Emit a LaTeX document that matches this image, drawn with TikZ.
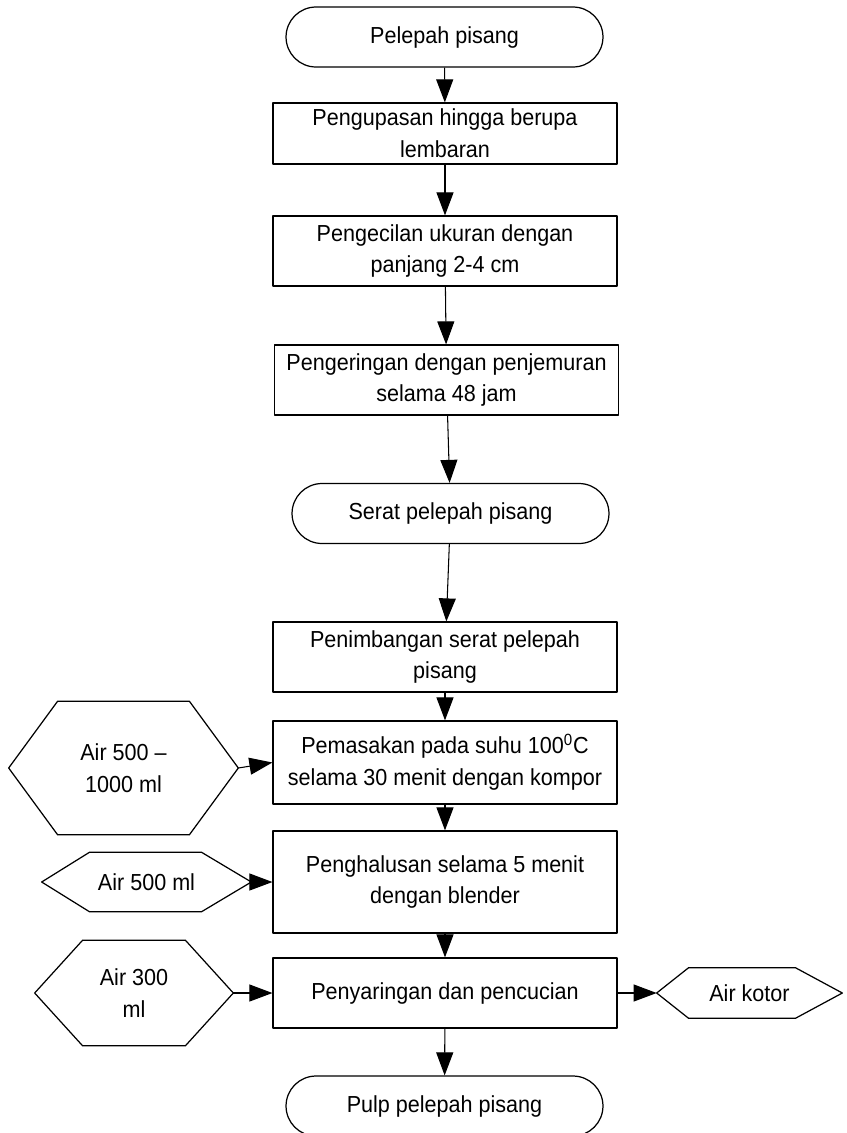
\documentclass[tikz,border=0pt]{standalone}
\usepackage{fontspec}
\setmainfont{Liberation Sans}[FakeStretch=0.93]
\usetikzlibrary{arrows.meta}

% hexagon round a named node: node, left cut, right cut
\newcommand\hexout[3]{%
  \draw[line width=0.7pt] ([xshift=#2]#1.north west) -- ([xshift=-#3]#1.north east) -- (#1.east)
    -- ([xshift=-#3]#1.south east) -- ([xshift=#2]#1.south west) -- (#1.west) -- cycle;}

\begin{document}
\begin{tikzpicture}[x=0.02cm, y=-0.02cm, line join=round, >={Triangle[length=0.46cm,width=0.34cm]},
    font=\fontsize{13.2}{18.2}\selectfont,
    proses/.style={draw, line width=0.7pt, align=center, inner sep=0pt, minimum width=6.88cm},
    ujung/.style={draw, line width=0.7pt, rounded corners=0.6cm, inner sep=0pt, minimum width=6.34cm, minimum height=1.2cm},
    masukan/.style={align=center, inner sep=0pt},
    alir/.style={->, line width=0.6pt}]
  \useasboundingbox (0,0) rectangle (847,1133);
  % alur utama
  \node[ujung] (t1) at (444.5,37) {Pelepah pisang};
  \node[proses, minimum height=1.22cm] (b1) at (445,133.5) {Pengupasan hingga berupa\\lembaran};
  \node[proses, minimum height=1.4cm] (b2) at (445,251) {Pengecilan ukuran dengan\\panjang 2-4 cm};
  \node[proses, minimum height=1.4cm] (b3) at (446.5,380) {Pengeringan dengan penjemuran\\selama 48 jam};
  \node[ujung] (t2) at (450.5,513.5) {Serat pelepah pisang};
  \node[proses, minimum height=1.4cm] (b4) at (445,657) {Penimbangan serat pelepah\\pisang};
  \node[proses, minimum height=1.66cm] (b5) at (445,762.5) {Pemasakan pada suhu 100\textsuperscript{0}C\\selama 30 menit dengan kompor};
  \node[proses, minimum height=2.04cm] (b6) at (445,882) {Penghalusan selama 5 menit\\dengan blender};
  \node[proses, minimum height=1.4cm] (b7) at (445,993) {Penyaringan dan pencucian};
  \node[ujung] (t3) at (444.5,1106) {Pulp pelepah pisang};
  % bahan masuk dan keluar
  \node[masukan, minimum width=4.58cm, minimum height=2.66cm] (h1) at (123.5,768) {Air 500 --\\1000 ml};
  \node[masukan, minimum width=4.18cm, minimum height=1.18cm] (h2) at (146.5,882) {Air 500 ml};
  \node[masukan, minimum width=3.96cm, minimum height=2.1cm] (h3) at (134,993) {Air 300\\ml};
  \node[masukan, minimum width=3.7cm, minimum height=1cm] (h4) at (749.5,993) {Air kotor};
  \hexout{h1}{0.98cm}{0.98cm}
  \hexout{h2}{0.96cm}{1cm}
  \hexout{h3}{0.96cm}{0.96cm}
  \hexout{h4}{0.64cm}{0.94cm}
  % panah
  \draw[alir] (t1) -- (b1);
  \draw[alir] (b1) -- (b2);
  \draw[alir] (b2) -- (b3);
  \draw[alir] (b3) -- (t2);
  \draw[alir] (t2) -- (b4);
  \draw[alir] (b4) -- (b5);
  \draw[alir] (b5) -- (b6);
  \draw[alir] (b6) -- (b7);
  \draw[alir] (b7) -- (t3);
  \draw[alir] (h1.east) -- (b5.west);
  \draw[alir] (h2.east) -- (b6.west);
  \draw[alir] (h3.east) -- (b7.west);
  \draw[alir] (b7.east) -- (h4.west);
\end{tikzpicture}
\end{document}
